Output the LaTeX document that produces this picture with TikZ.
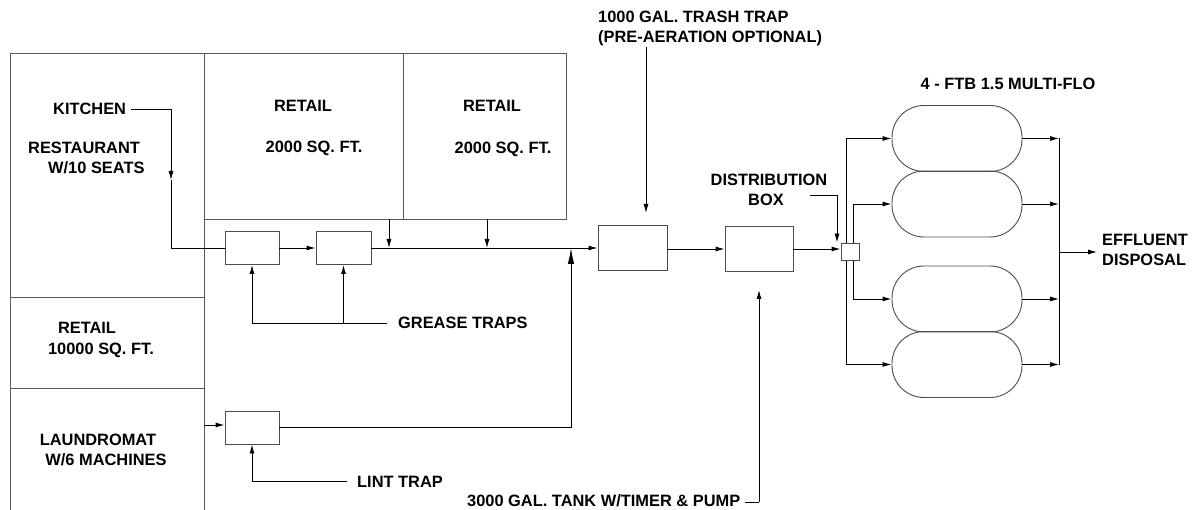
\documentclass[tikz,border=0pt]{standalone}
\usepackage{fontspec}
\setmainfont{Liberation Sans}
\usetikzlibrary{arrows.meta}
\begin{document}
\begin{tikzpicture}[x=1pt,y=-1pt,
  wall/.style={draw=black!65, line width=0.9pt},
  pipe/.style={draw=black, line width=0.9pt},
  arr/.style={pipe, -{Latex[length=9pt,width=5pt]}},
  bigarr/.style={pipe, -{Latex[length=16pt,width=6.5pt]}},
  unit/.style={draw=black!70, line width=0.9pt, fill=white, inner sep=0pt},
  tank/.style={draw=black!70, line width=0.9pt, rounded corners=32pt, minimum width=130pt, minimum height=66pt, inner sep=0pt},
  lbl/.style={font=\fontsize{16.4}{19}\selectfont\bfseries, inner sep=0pt}]
\useasboundingbox (0,0) rectangle (1196,510);

% ---- building outlines ----
\draw[wall] (10,510) -- (10,53) -- (566,53) -- (566,219) -- (204,219);
\draw[wall] (204,53) -- (204,510);
\draw[wall] (403,53) -- (403,219);
\draw[wall] (10,297) -- (204,297);
\draw[wall] (10,388) -- (204,388);

% ---- building labels ----
\node[lbl, anchor=base west] (kitchen) at (53,115) {KITCHEN};
\node[lbl, anchor=base west] (rest1) at (28,154) {RESTAURANT};
\node[lbl, anchor=base west] (rest2) at (48,174) {W/10 SEATS};
\node[lbl, anchor=base] (ret1a) at (303,112) {RETAIL};
\node[lbl, anchor=base] (ret1b) at (314,153) {2000 SQ. FT.};
\node[lbl, anchor=base] (ret2a) at (492,112) {RETAIL};
\node[lbl, anchor=base] (ret2b) at (503,154) {2000 SQ. FT.};
\node[lbl, anchor=base] (ret3a) at (87,334) {RETAIL};
\node[lbl, anchor=base] (ret3b) at (101,355) {10000 SQ. FT.};
\node[lbl, anchor=base] (laun1) at (98,445) {LAUNDROMAT};
\node[lbl, anchor=base] (laun2) at (106,465) {W/6 MACHINES};

% ---- units ----
\node[unit, minimum width=54pt, minimum height=33pt] (gt1) at (252,248) {};
\node[unit, minimum width=55pt, minimum height=33pt] (gt2) at (343.5,248) {};
\node[unit, minimum width=54pt, minimum height=33pt] (lint) at (252,427.5) {};
\node[unit, minimum width=69pt, minimum height=45pt] (trash) at (632.5,247.5) {};
\node[unit, minimum width=68pt, minimum height=45pt] (pump) at (759,249) {};

% ---- tanks ----
\node[tank] (t1) at (957,138.5) {};
\node[tank] (t2) at (957,204) {};
\node[tank] (t3) at (957,299) {};
\node[tank] (t4) at (957,364.5) {};

% ---- other labels ----
\node[lbl, anchor=base west] (tt1) at (598,23) {1000 GAL. TRASH TRAP};
\node[lbl, anchor=base west] (tt2) at (598,43) {(PRE-AERATION OPTIONAL)};
\node[lbl, anchor=base] (db1) at (769,186) {DISTRIBUTION};
\node[lbl, anchor=base] (db2) at (766,206) {BOX};
\node[lbl, anchor=base west] (grease) at (398,329) {GREASE TRAPS};
\node[lbl, anchor=base west] (linttxt) at (357,487) {LINT TRAP};
\node[lbl, anchor=base west] (pumptxt) at (467,506) {3000 GAL. TANK W/TIMER \& PUMP};
\node[lbl, anchor=base] (ftb) at (1008,90) {4 - FTB 1.5 MULTI-FLO};
\node[lbl, anchor=base west] (eff1) at (1102,246) {EFFLUENT};
\node[lbl, anchor=base west] (eff2) at (1102,266) {DISPOSAL};

% ---- coordinates ----
\coordinate (k0) at (131,109);
\coordinate (k1) at (171,109);
\coordinate (k2) at (171,180);
\coordinate (k3) at (171,248);
\coordinate (r1) at (389,219);
\coordinate (r2) at (487,219);
\coordinate (lr) at (571,427.5);
\coordinate (lin) at (204,425);
\coordinate (gl) at (387,323);
\coordinate (ll) at (347,481);
\coordinate (ttl) at (646,47);
\coordinate (ptl) at (745,502);
\coordinate (ptc) at (759,502);
\coordinate (dbl) at (810,195);
\coordinate (dbc) at (837,195);
\coordinate (mo) at (846,0);
\coordinate (mi) at (853,0);
\coordinate (col) at (1059,0);
\coordinate (effend) at (1097,252);

% ---- kitchen line ----
\draw[pipe] (k0) -- (k1);
\draw[arr] (k1) -- (k2);
\draw[pipe] (k2) -- (k3) -- (gt1.west);

% ---- main line ----
\draw[arr] (gt1.east) -- (gt2.west);
\draw[arr] (gt2.east) -- (trash.west |- gt2.east);
\draw[arr] (r1) -- (r1 |- gt2.east);
\draw[arr] (r2) -- (r2 |- gt2.east);

% ---- laundromat ----
\draw[arr] (lin) -- (lin -| lint.west);
\draw[pipe] (lint.east |- lr) -- (lr);
\draw[bigarr] (lr) -- (lr |- gt2.east);

% ---- leaders ----
\draw[pipe] (gl) -- (gl -| gt1.south);
\draw[arr] (gl -| gt1.south) -- (gt1.south);
\draw[arr] (gl -| gt2.south) -- (gt2.south);
\draw[pipe] (ll) -- (ll -| lint.south);
\draw[arr] (ll -| lint.south) -- (lint.south);
\draw[arr] (ttl) -- ++(0,166);
\draw[pipe] (ptl) -- (ptc);
\draw[arr] (ptc) -- (ptc |- 0,290);
\draw[pipe] (dbl) -- (dbc);

% ---- trash -> pump -> dbox ----
\draw[arr] (trash.east |- pump.west) -- (pump.west);

% ---- manifolds ----
\draw[pipe] (mo |- t1.west) -- (mo |- t4.west);
\draw[pipe] (mi |- t2.west) -- (mi |- t3.west);
\draw[arr] (mo |- t1.west) -- (t1.west);
\draw[arr] (mi |- t2.west) -- (t2.west);
\draw[arr] (mi |- t3.west) -- (t3.west);
\draw[arr] (mo |- t4.west) -- (t4.west);

\node[unit, minimum width=18pt, minimum height=17pt] (dbox) at (850,251.5) {};
\draw[arr] (pump.east) -- (dbox.west |- pump.east);
\draw[arr] (dbc) -- (dbc |- dbox.north);

% ---- collector ----
\draw[arr] (t1.east) -- (col |- t1.east);
\draw[arr] (t2.east) -- (col |- t2.east);
\draw[arr] (t3.east) -- (col |- t3.east);
\draw[arr] (t4.east) -- (col |- t4.east);
\draw[pipe] (col |- t1.east) -- (col |- t4.east);
\draw[arr] (col |- effend) -- (effend);
\end{tikzpicture}
\end{document}
